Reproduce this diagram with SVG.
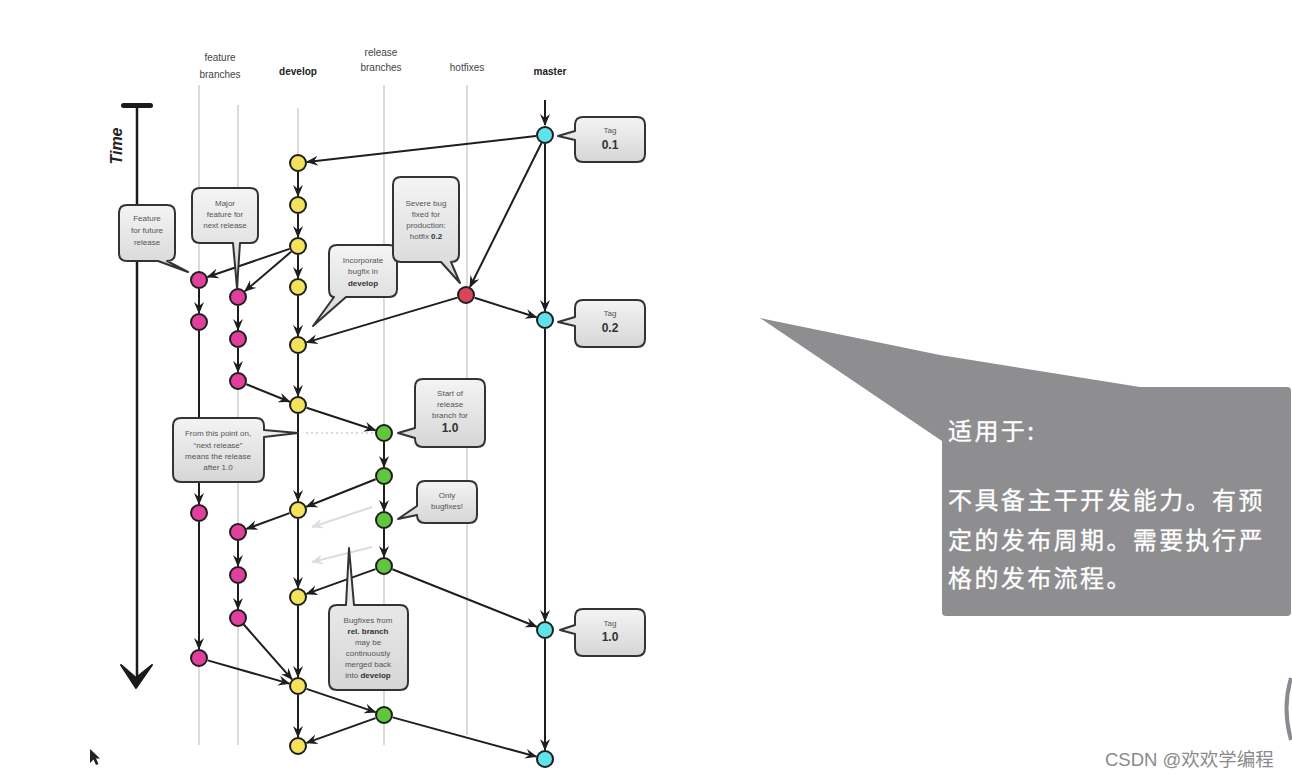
<svg xmlns="http://www.w3.org/2000/svg" width="1292" height="776" viewBox="0 0 1292 776">
<style>
.lane{stroke:#cfcfcf;stroke-width:1.5;fill:none}
.hd{font-family:"Liberation Sans",Arial,sans-serif;font-size:10px;fill:#444;text-anchor:middle}
.hb{font-weight:bold;fill:#222}
.c{stroke:#1e1e1e;stroke-width:2;fill:none;marker-end:url(#ah)}
.cl{stroke:#dcdcdc;stroke-width:2;fill:none;marker-end:url(#ahl)}
.n{stroke:#1e1e1e;stroke-width:2}
.y{fill:#f3e35c}.p{fill:#e0409c}.g{fill:#5fc73c}.b{fill:#5ee3ea}.r{fill:#d8445a}
.co{fill:url(#cg);stroke:#333;stroke-width:2;stroke-linejoin:round}
.ct{font-family:"Liberation Sans",Arial,sans-serif;font-size:8px;fill:#555;text-anchor:middle}
.bd{font-weight:bold;fill:#333}
.tg{font-family:"Liberation Sans",Arial,sans-serif;font-size:12px;font-weight:bold;fill:#333;text-anchor:middle}
.zh{font-family:"Noto Sans CJK SC","Noto Sans",sans-serif;font-size:24px;fill:#ffffff;stroke:#ffffff;stroke-width:0.3px;letter-spacing:2.4px}
</style>
<defs>
<marker id="ah" viewBox="0 0 12 12" refX="11" refY="6" markerWidth="12" markerHeight="12" markerUnits="userSpaceOnUse" orient="auto">
<path d="M0,1 L12,6 L0,11 L4,6 Z" fill="#1e1e1e"/>
</marker>
<marker id="ahl" viewBox="0 0 12 12" refX="11" refY="6" markerWidth="12" markerHeight="12" markerUnits="userSpaceOnUse" orient="auto">
<path d="M0,1 L12,6 L0,11 L4,6 Z" fill="#dcdcdc"/>
</marker>
<linearGradient id="cg" x1="0" y1="0" x2="0" y2="1">
<stop offset="0" stop-color="#f4f4f4"/>
<stop offset="1" stop-color="#d6d6d6"/>
</linearGradient>
</defs>
<rect width="1292" height="776" fill="#ffffff"/>

<g id="lanes">
<line class="lane" x1="199" y1="85" x2="199" y2="745"/>
<line class="lane" x1="238" y1="105" x2="238" y2="745"/>
<line class="lane" x1="298" y1="108" x2="298" y2="745"/>
<line class="lane" x1="384" y1="85" x2="384" y2="745"/>
<line class="lane" x1="467" y1="85" x2="467" y2="735"/>
</g>

<g id="headers">
<text class="hd" x="220" y="61">feature</text>
<text class="hd" x="220" y="78">branches</text>
<text class="hd hb" x="298" y="75">develop</text>
<text class="hd" x="381" y="56">release</text>
<text class="hd" x="381" y="71">branches</text>
<text class="hd" x="467" y="71">hotfixes</text>
<text class="hd hb" x="550" y="75">master</text>
</g>

<g id="time-axis">
<rect x="121" y="103" width="32" height="5" rx="2.5" fill="#1a1a1a"/>
<line x1="137" y1="105" x2="137" y2="684" stroke="#1a1a1a" stroke-width="2.5"/>
<path d="M121,665 L136,678 L152,665 L136,688 Z" fill="#1a1a1a" stroke="#1a1a1a" stroke-width="2" stroke-linejoin="round"/>
<text transform="translate(122,146) rotate(-90)" text-anchor="middle" font-family="Liberation Sans,Arial,sans-serif" font-size="16" font-weight="bold" font-style="italic" fill="#222">Time</text>
</g>

<g id="connectors">
<line class="c" x1="545" y1="100" x2="545" y2="125"/>
<line class="c" x1="536" y1="136" x2="307" y2="162"/>
<line class="c" x1="541.5" y1="143" x2="470" y2="287"/>
<line class="c" x1="545" y1="144" x2="545" y2="311"/>
<line class="c" x1="474.6" y1="297.7" x2="536.4" y2="317.3"/>
<line class="c" x1="457.4" y1="297.6" x2="306.6" y2="342.4"/>
<line class="c" x1="298" y1="172" x2="298" y2="196"/>
<line class="c" x1="298" y1="214" x2="298" y2="237"/>
<line class="c" x1="298" y1="255" x2="298" y2="278"/>
<line class="c" x1="298" y1="296" x2="298" y2="336"/>
<line class="c" x1="298" y1="354" x2="298" y2="396"/>
<line class="c" x1="298" y1="414" x2="298" y2="501"/>
<line class="c" x1="298" y1="519" x2="298" y2="588"/>
<line class="c" x1="298" y1="606" x2="298" y2="677"/>
<line class="c" x1="298" y1="695" x2="298" y2="737"/>
<line class="c" x1="289.5" y1="248.9" x2="207.5" y2="277"/>
<line class="c" x1="291.1" y1="251.8" x2="244.9" y2="291.2"/>
<line class="c" x1="199" y1="289" x2="199" y2="313"/>
<line class="c" x1="199" y1="331" x2="199" y2="504"/>
<line class="c" x1="199" y1="522" x2="199" y2="649"/>
<line class="c" x1="207.7" y1="660.4" x2="289.3" y2="683.6"/>
<line class="c" x1="238" y1="306" x2="238" y2="330"/>
<line class="c" x1="238" y1="348" x2="238" y2="372"/>
<line class="c" x1="246.4" y1="384.3" x2="289.6" y2="401.7"/>
<line class="c" x1="306.6" y1="407.8" x2="375.4" y2="430.2"/>
<line x1="306" y1="433" x2="374" y2="433" stroke="#cfcfcf" stroke-width="1.5" stroke-dasharray="2 3"/>
<line class="c" x1="384" y1="442" x2="384" y2="467"/>
<line class="c" x1="384" y1="485" x2="384" y2="511"/>
<line class="c" x1="384" y1="529" x2="384" y2="557"/>
<line class="c" x1="375.6" y1="479.3" x2="306.4" y2="506.7"/>
<line class="c" x1="289.5" y1="513.1" x2="246.5" y2="528.9"/>
<line class="c" x1="238" y1="541" x2="238" y2="566"/>
<line class="c" x1="238" y1="584" x2="238" y2="609"/>
<line class="c" x1="243.3" y1="624" x2="292" y2="679.3"/>
<line class="cl" x1="372" y1="507" x2="312" y2="527"/>
<line class="cl" x1="372" y1="547" x2="312" y2="562"/>
<line class="c" x1="375.5" y1="569.1" x2="306.5" y2="593.9"/>
<line class="c" x1="392.4" y1="569.3" x2="536.6" y2="626.7"/>
<line class="c" x1="545" y1="329" x2="545" y2="621"/>
<line class="c" x1="545" y1="639" x2="545" y2="750"/>
<line class="c" x1="306.5" y1="688.9" x2="375.5" y2="712.1"/>
<line class="c" x1="375.5" y1="718.1" x2="306.5" y2="742.9"/>
<line class="c" x1="392.7" y1="717.4" x2="536.3" y2="756.6"/>
</g>

<g id="nodes">
<g id="master-nodes">
<circle class="n b" cx="545" cy="135" r="8"/>
<circle class="n b" cx="545" cy="320" r="8"/>
<circle class="n b" cx="545" cy="630" r="8"/>
<circle class="n b" cx="545" cy="759" r="8"/>
</g>
<g id="hotfix-nodes">
<circle class="n r" cx="466" cy="295" r="8"/>
</g>
<g id="develop-nodes">
<circle class="n y" cx="298" cy="163" r="8"/>
<circle class="n y" cx="298" cy="205" r="8"/>
<circle class="n y" cx="298" cy="246" r="8"/>
<circle class="n y" cx="298" cy="287" r="8"/>
<circle class="n y" cx="298" cy="345" r="8"/>
<circle class="n y" cx="298" cy="405" r="8"/>
<circle class="n y" cx="298" cy="510" r="8"/>
<circle class="n y" cx="298" cy="597" r="8"/>
<circle class="n y" cx="298" cy="686" r="8"/>
<circle class="n y" cx="298" cy="746" r="8"/>
</g>
<g id="feature-nodes">
<circle class="n p" cx="199" cy="280" r="8"/>
<circle class="n p" cx="199" cy="322" r="8"/>
<circle class="n p" cx="199" cy="513" r="8"/>
<circle class="n p" cx="199" cy="658" r="8"/>
<circle class="n p" cx="238" cy="297" r="8"/>
<circle class="n p" cx="238" cy="339" r="8"/>
<circle class="n p" cx="238" cy="381" r="8"/>
<circle class="n p" cx="238" cy="532" r="8"/>
<circle class="n p" cx="238" cy="575" r="8"/>
<circle class="n p" cx="238" cy="618" r="8"/>
</g>
<g id="release-nodes">
<circle class="n g" cx="384" cy="433" r="8"/>
<circle class="n g" cx="384" cy="476" r="8"/>
<circle class="n g" cx="384" cy="520" r="8"/>
<circle class="n g" cx="384" cy="566" r="8"/>
<circle class="n g" cx="384" cy="715" r="8"/>
</g>
</g>

<g id="tag-01">
<path class="co" d="M583,117 H637 Q645,117 645,125 V154 Q645,162 637,162 H583 Q575,162 575,154 V140 L558,136 L575,131 V125 Q575,117 583,117 Z"/>
<text class="ct" x="610" y="133">Tag</text>
<text class="tg" x="610" y="149">0.1</text>
</g>
<g id="tag-02">
<path class="co" d="M583,300 H637 Q645,300 645,308 V339 Q645,347 637,347 H583 Q575,347 575,339 V326 L558,322 L575,317 V308 Q575,300 583,300 Z"/>
<text class="ct" x="610" y="316">Tag</text>
<text class="tg" x="610" y="332">0.2</text>
</g>
<g id="tag-10">
<path class="co" d="M583,609 H637 Q645,609 645,617 V648 Q645,656 637,656 H583 Q575,656 575,648 V634 L560,630 L575,625 V617 Q575,609 583,609 Z"/>
<text class="ct" x="610" y="626">Tag</text>
<text class="tg" x="610" y="641">1.0</text>
</g>
<g id="note-future">
<path class="co" d="M127,205 H167 Q175,205 175,213 V253 Q175,261 167,261 L188,272 L158,261 H127 Q119,261 119,253 V213 Q119,205 127,205 Z"/>
<text class="ct" x="147" y="221">Feature</text>
<text class="ct" x="147" y="233">for future</text>
<text class="ct" x="147" y="245">release</text>
</g>
<g id="note-major">
<path class="co" d="M200,188 H250 Q258,188 258,196 V235 Q258,243 250,243 H240 L237,288 L233,243 H200 Q192,243 192,235 V196 Q192,188 200,188 Z"/>
<text class="ct" x="225" y="206">Major</text>
<text class="ct" x="225" y="217">feature for</text>
<text class="ct" x="225" y="228">next release</text>
</g>
<g id="note-incorporate">
<path class="co" d="M337,245 H389 Q397,245 397,253 V289 Q397,297 389,297 H346 L313,326 L334,297 Q329,297 329,289 V253 Q329,245 337,245 Z"/>
<text class="ct" x="363" y="263">Incorporate</text>
<text class="ct" x="363" y="274">bugfix in</text>
<text class="ct bd" x="363" y="286">develop</text>
</g>
<g id="note-severe">
<path class="co" d="M401,177 H451 Q459,177 459,185 V254 Q459,262 451,262 L460,283 L441,262 H401 Q393,262 393,254 V185 Q393,177 401,177 Z"/>
<text class="ct" x="426" y="206">Severe bug</text>
<text class="ct" x="426" y="217">fixed for</text>
<text class="ct" x="426" y="228">production:</text>
<text class="ct" x="426" y="239">hotfix <tspan class="bd">0.2</tspan></text>
</g>
<g id="note-start-release">
<path class="co" d="M423,379 H477 Q485,379 485,387 V439 Q485,447 477,447 H423 Q415,447 415,439 V438 L398,433 L415,428 V387 Q415,379 423,379 Z"/>
<text class="ct" x="450" y="396">Start of</text>
<text class="ct" x="450" y="407">release</text>
<text class="ct" x="450" y="418">branch for</text>
<text class="tg" x="450" y="432" font-size="11">1.0</text>
</g>
<g id="note-next-release">
<path class="co" d="M181,418 H256 Q264,418 264,426 V430 L298,433 L264,437 V474 Q264,482 256,482 H181 Q173,482 173,474 V426 Q173,418 181,418 Z"/>
<text class="ct" x="218" y="436">From this point on,</text>
<text class="ct" x="218" y="448">“next release”</text>
<text class="ct" x="218" y="459">means the release</text>
<text class="ct" x="218" y="470">after 1.0</text>
</g>
<g id="note-only-bugfixes">
<path class="co" d="M425,481 H469 Q477,481 477,489 V515 Q477,523 469,523 H425 Q417,523 417,515 L398,519 L417,506 V489 Q417,481 425,481 Z"/>
<text class="ct" x="447" y="498">Only</text>
<text class="ct" x="447" y="509">bugfixes!</text>
</g>
<g id="note-bugfixes-merged">
<path class="co" d="M337,605 H346 L349,548 L354,605 H400 Q408,605 408,613 V682 Q408,690 400,690 H337 Q329,690 329,682 V613 Q329,605 337,605 Z"/>
<text class="ct" x="368" y="623">Bugfixes from</text>
<text class="ct bd" x="368" y="634">rel. branch</text>
<text class="ct" x="368" y="645">may be</text>
<text class="ct" x="368" y="656">continuously</text>
<text class="ct" x="368" y="667">merged back</text>
<text class="ct" x="368" y="678">into <tspan class="bd">develop</tspan></text>
</g>

<g id="summary-callout">
<path d="M760,318 L940,355 L1140,387 L942,392 L942,441 Z" fill="#8e8e90"/>
<rect x="942" y="387" width="349" height="229" rx="4" fill="#8e8e90"/>
<text class="zh" x="948" y="440">适用于:</text>
<text class="zh" x="948" y="509">不具备主干开发能力。有预</text>
<text class="zh" x="948" y="549">定的发布周期。需要执行严</text>
<text class="zh" x="948" y="587">格的发布流程。</text>
</g>

<path d="M1291,678 Q1282,708 1291,740" fill="none" stroke="#8a8a90" stroke-width="4"/>
<path d="M90,749 L90,763 L93.5,759.5 L96,765 L98.5,764 L96,758.5 L100,758.5 Z" fill="#222"/>
<text x="1105" y="766" font-family="Liberation Sans,Noto Sans CJK SC,sans-serif" font-size="18.5" fill="#8a8a8a">CSDN @欢欢学编程</text>
</svg>
